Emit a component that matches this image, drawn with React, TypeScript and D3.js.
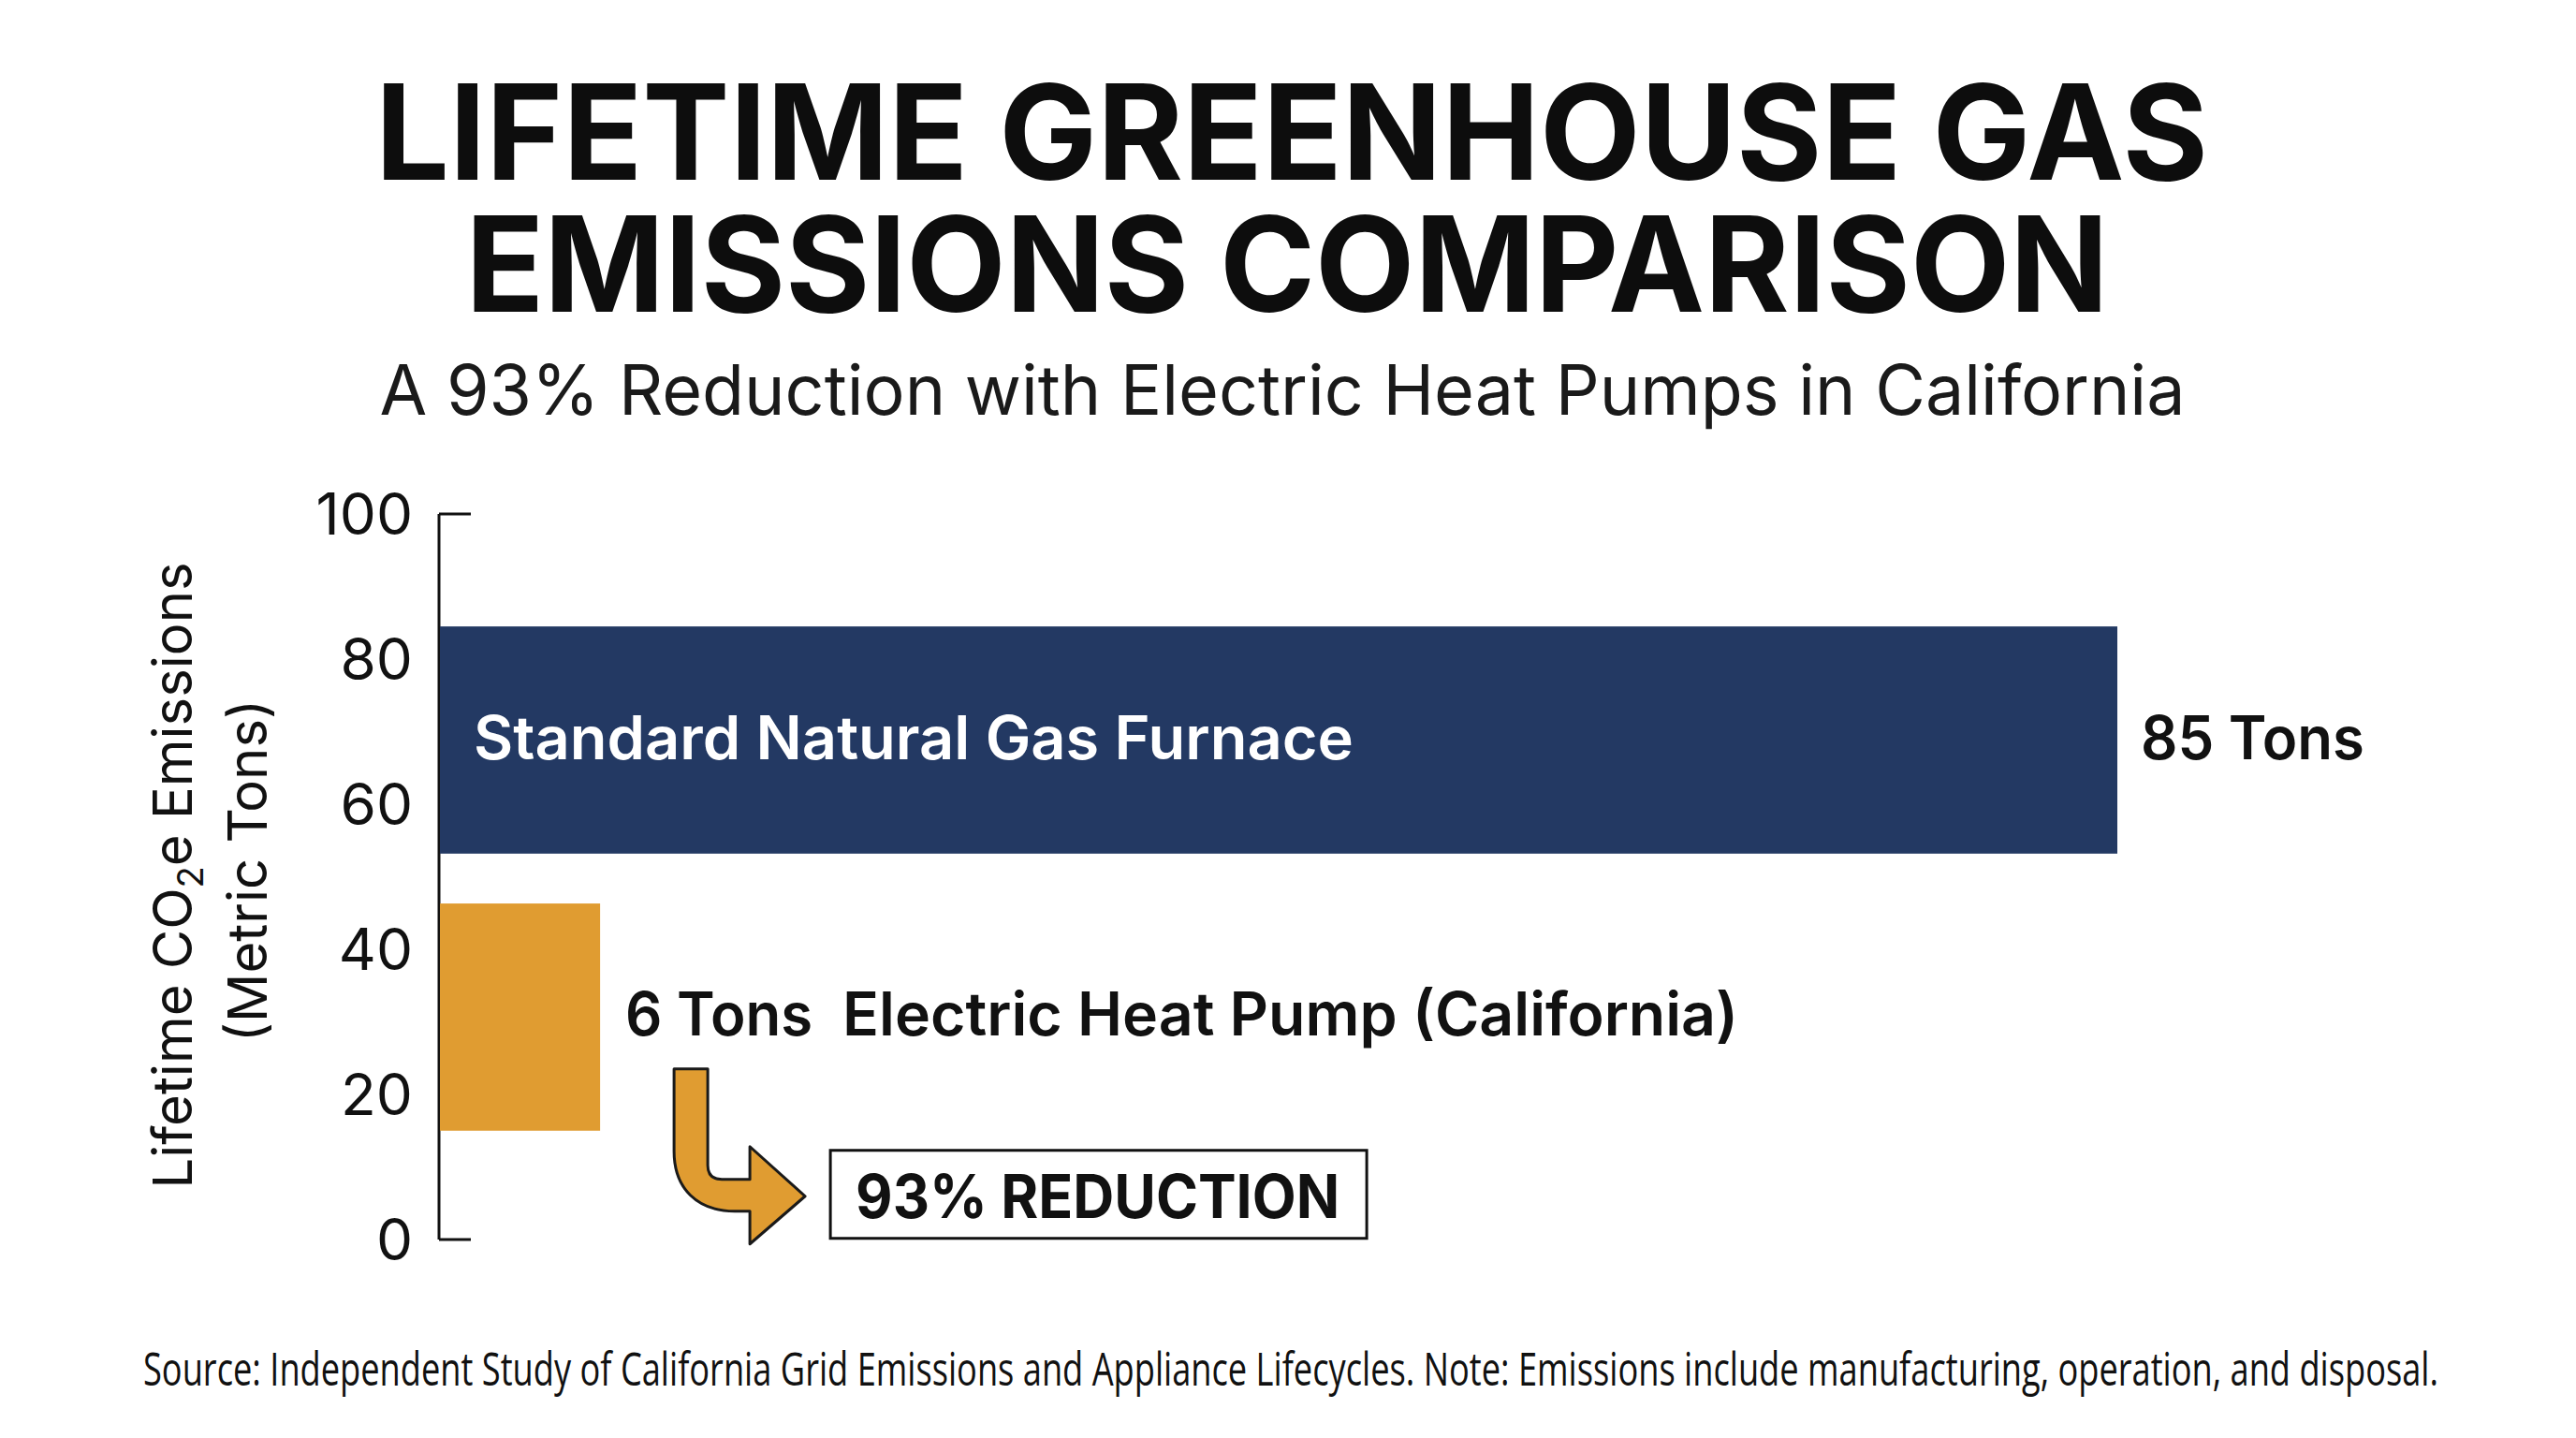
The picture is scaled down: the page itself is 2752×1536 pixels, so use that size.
import { useEffect } from 'react';
import * as d3 from 'd3';

const categories = ['Standard Natural Gas Furnace', 'Electric Heat Pump (California)'];
const emissions = [85, 6];
const valueLabels = ['85 Tons', '6 Tons'];
const barColors = ['#233963', '#e09c31'];
const yTicks = [0, 20, 40, 60, 80, 100];

const titleLines = ['LIFETIME GREENHOUSE GAS', 'EMISSIONS COMPARISON'];
const subtitle = 'A 93% Reduction with Electric Heat Pumps in California';
const reductionText = '93% REDUCTION';
const footnote =
  'Source: Independent Study of California Grid Emissions and Appliance Lifecycles. Note: Emissions include manufacturing, operation, and disposal.';

const W = 2752;
const H = 1536;
const FONT = 'Inter, "Open Sans", sans-serif';

export default function App() {
  useEffect(() => {
    document.body.style.margin = '0';
    document.body.style.overflow = 'hidden';
  }, []);

  const axisX = 469;

  // vertical numeric axis
  const y = d3.scaleLinear().domain([0, 100]).range([1324, 549]);

  // bars sit in bands between 15 and 84.5 on the axis
  const band = d3
    .scaleBand()
    .domain(categories)
    .range([y(84.5), y(15)])
    .paddingInner(0.18);

  // horizontal length scale (bars keep a minimum stub)
  const x = d3.scaleLinear().domain([0, 85]).range([axisX + 49, 2262]);

  const gasY = band(categories[0])!;
  const hpY = band(categories[1])!;
  const bw = band.bandwidth();

  // arrow anchor: end of the heat pump bar, bottom edge
  const ax = x(emissions[1]);
  const ay = hpY + bw;
  const arrowPath = [
    `M${ax + 79},${ay - 66}`,
    `L${ax + 115},${ay - 66}`,
    `L${ax + 115},${ay + 37}`,
    `Q${ax + 115},${ay + 52} ${ax + 130},${ay + 52}`,
    `L${ax + 160},${ay + 52}`,
    `L${ax + 160},${ay + 17}`,
    `L${ax + 219},${ay + 70}`,
    `L${ax + 160},${ay + 121}`,
    `L${ax + 160},${ay + 86}`,
    `L${ax + 144},${ay + 86}`,
    `C${ax + 104},${ay + 86} ${ax + 79},${ay + 62} ${ax + 79},${ay + 22}`,
    'Z',
  ].join(' ');

  return (
    <svg
      width={W}
      height={H}
      style={{ position: 'absolute', left: 0, top: 0, background: '#fff' }}
    >
      <rect width={W} height={H} fill="#fff" />

      {/* Title */}
      <text x={1380} y={192} textAnchor="middle" fontFamily={FONT} fontWeight={700} fontSize={141}
        fill="#0d0d0d" textLength={1958} lengthAdjust="spacingAndGlyphs">
        {titleLines[0]}
      </text>
      <text x={1375} y={333} textAnchor="middle" fontFamily={FONT} fontWeight={700} fontSize={141}
        fill="#0d0d0d" textLength={1755} lengthAdjust="spacingAndGlyphs">
        {titleLines[1]}
      </text>
      <text x={1370} y={443} textAnchor="middle" fontFamily={FONT} fontWeight={400} fontSize={74}
        fill="#1a1a1a" textLength={1929} lengthAdjust="spacingAndGlyphs">
        {subtitle}
      </text>

      {/* Y axis */}
      <line x1={axisX} x2={axisX} y1={y(100)} y2={y(0)} stroke="#111" strokeWidth={3} />
      {yTicks.map((t) => (
        <g key={t}>
          <line x1={axisX} x2={axisX + 34} y1={y(t)} y2={y(t)} stroke="#111" strokeWidth={3} />
          <text x={441} y={y(t)} dy="0.36em" textAnchor="end" fontFamily={FONT} fontSize={62}
            fill="#111">
            {t}
          </text>
        </g>
      ))}

      {/* Y axis title */}
      <text transform="translate(205, 935) rotate(-90)" textAnchor="middle" fontFamily={FONT}
        fontSize={58} fill="#111">
        Lifetime CO<tspan fontSize={38} dy={12}>2</tspan>
        <tspan dy={-12}>e Emissions</tspan>
      </text>
      <text transform="translate(285, 930) rotate(-90)" textAnchor="middle" fontFamily={FONT}
        fontSize={58} fill="#111">
        (Metric Tons)
      </text>

      {/* Bars */}
      {categories.map((c, i) => (
        <rect key={c} x={axisX + 1} y={band(c)!} width={x(emissions[i]) - axisX - 1} height={bw}
          fill={barColors[i]} />
      ))}

      {/* Gas furnace labels */}
      <text x={axisX + 37} y={gasY + bw / 2 + 21} fontFamily={FONT} fontWeight={600} fontSize={64}
        fill="#fff" textLength={940} lengthAdjust="spacingAndGlyphs">
        {categories[0]}
      </text>
      <text x={x(emissions[0]) + 25} y={gasY + bw / 2 + 21} fontFamily={FONT} fontWeight={600}
        fontSize={64} fill="#111" textLength={239} lengthAdjust="spacingAndGlyphs">
        {valueLabels[0]}
      </text>

      {/* Heat pump labels */}
      <text x={x(emissions[1]) + 27} y={hpY + bw / 2 + 20} fontFamily={FONT} fontWeight={600}
        fontSize={64} fill="#111" textLength={200} lengthAdjust="spacingAndGlyphs">
        {valueLabels[1]}
      </text>
      <text x={x(emissions[1]) + 259} y={hpY + bw / 2 + 20} fontFamily={FONT} fontWeight={600}
        fontSize={64} fill="#111" textLength={957} lengthAdjust="spacingAndGlyphs">
        {categories[1]}
      </text>

      {/* Reduction arrow + box */}
      <path d={arrowPath} fill="#e09c31" stroke="#1a1a1a" strokeWidth={3} strokeLinejoin="round" />
      <rect x={ax + 246} y={ay + 21} width={573} height={94} fill="#fff" stroke="#111"
        strokeWidth={3} />
      <text x={ax + 273} y={ay + 93} fontFamily={FONT} fontWeight={700} fontSize={64} fill="#111"
        textLength={517} lengthAdjust="spacingAndGlyphs">
        {reductionText}
      </text>

      {/* Footnote */}
      <text x={153} y={1480} fontFamily='"Liberation Sans Narrow", "Open Sans", sans-serif'
        fontSize={50} fill="#111" textLength={2452} lengthAdjust="spacingAndGlyphs">
        {footnote}
      </text>
    </svg>
  );
}
